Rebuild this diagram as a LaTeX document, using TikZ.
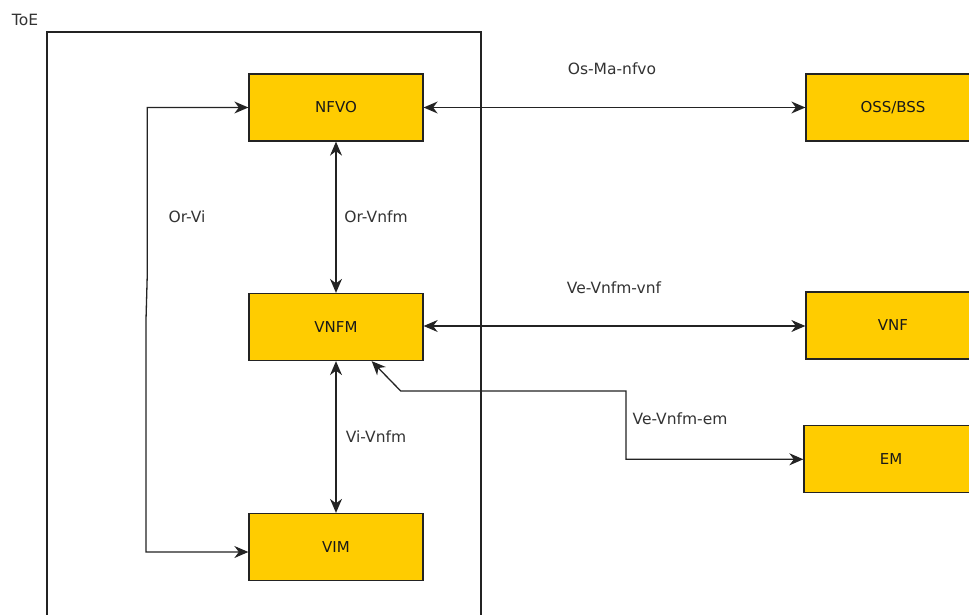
\documentclass[tikz,border=0pt]{standalone}
\usepackage{fontspec}
\setmainfont{DejaVu Sans}
\usetikzlibrary{arrows.meta}
\definecolor{boxfill}{RGB}{255,204,0}
\definecolor{linegray}{RGB}{35,35,35}
\tikzset{
  box/.style={draw=linegray, line width=1.3pt, fill=boxfill, minimum width=174pt, minimum height=67pt, inner sep=0pt, font=\fontsize{15}{18}\selectfont, text=black!90},
  lbl/.style={font=\fontsize{15.5}{18}\selectfont, text=black!80, inner sep=0pt},
  conn/.style={draw=linegray, line width=1.3pt, {Stealth[length=14pt,width=12pt,inset=4.5pt]}-{Stealth[length=14pt,width=12pt,inset=4.5pt]}}
}
\begin{document}
\begin{tikzpicture}[x=1pt,y=-1pt]
\clip (0,0) rectangle (969,615);
\fill[white] (0,0) rectangle (969,615);
% ToE container
\draw[linegray, line width=1.3pt] (47,650) -- (47,32) -- (481,32) -- (481,650);
\node[lbl] (toe) at (25,20) {ToE};
% boxes
\node[box] (nfvo) at (336,107.5) {NFVO};
\node[box] (vnfm) at (336,327) {VNFM};
\node[box] (vim) at (336,547) {VIM};
\node[box] (oss) at (893,107.5) {OSS/BSS};
\node[box] (vnf) at (893,325.5) {VNF};
\node[box] (em) at (891,459.3) {EM};
% connectors
\draw[conn] (nfvo.east) -- (oss.west);
\node[lbl] (lOsMa) at (612,69) {Os-Ma-nfvo};
\draw[conn] (nfvo.south) -- (vnfm.north);
\node[lbl] (lOrVnfm) at (376,217) {Or-Vnfm};
\draw[conn] (vnfm.east |- 0,326) -- (vnf.west |- 0,326);
\node[lbl] (lVeVnf) at (614,288) {Ve-Vnfm-vnf};
\draw[conn] (vnfm.south) -- (vim.north);
\node[lbl] (lViVnfm) at (376,437) {Vi-Vnfm};
\coordinate (vimin) at ([yshift=-5pt]vim.west);
\draw[conn] (nfvo.west) -- (147.2,107.5) -- (147.2,277) -- (146,320) -- (146,552) -- (vimin);
\node[lbl] (lOrVi) at (187,217) {Or-Vi};
\coordinate (vnfmin) at ([xshift=35.7pt]vnfm.south);
\draw[conn] (em.west) -- (626,459.3) -- (626,391) -- (400.7,391) -- (vnfmin);
\node[lbl] (lVeEm) at (680,419) {Ve-Vnfm-em};
\end{tikzpicture}
\end{document}
